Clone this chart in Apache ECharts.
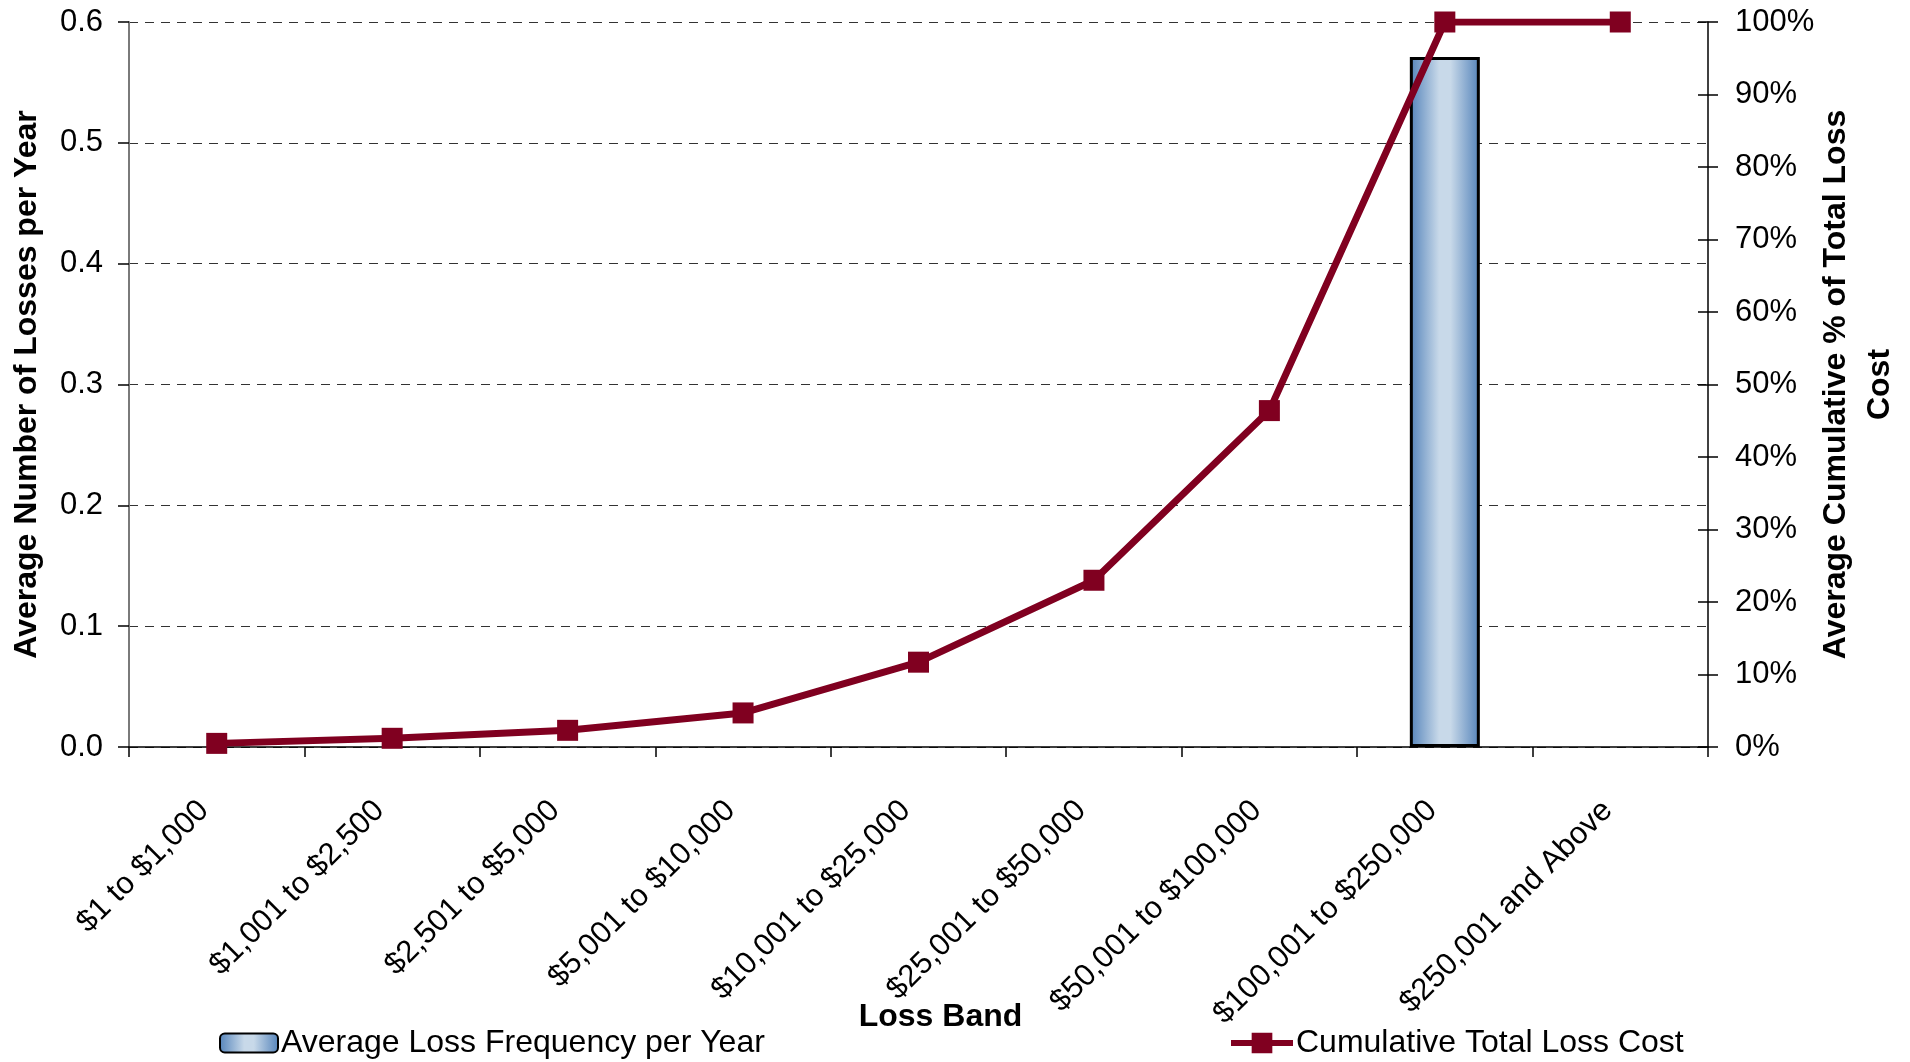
<!DOCTYPE html>
<html>
<head>
<meta charset="utf-8">
<style>
  html, body { margin: 0; padding: 0; background: #ffffff; }
  #chart { width: 1910px; height: 1062px; }
</style>
<script src="https://cdn.jsdelivr.net/npm/echarts@6/dist/echarts.min.js"></script>
</head>
<body>
<div id="chart"></div>
<script>
// Loss bands on the category axis
const lossBands = [
  '$1 to $1,000',
  '$1,001 to $2,500',
  '$2,501 to $5,000',
  '$5,001 to $10,000',
  '$10,001 to $25,000',
  '$25,001 to $50,000',
  '$50,001 to $100,000',
  '$100,001 to $250,000',
  '$250,001 and Above'
];

// Average number of losses per year in each band ('-' = no bar)
const lossFrequency = ['-', '-', '-', '-', '-', '-', '-', 0.571, '-'];

// Cumulative share of total loss cost, in percent
const cumulativeCost = [0.5, 1.2, 2.3, 4.7, 11.7, 23.0, 46.4, 100, 100];

const FONT = '"Liberation Sans", Arial, sans-serif';
const WINE = '#800020';

const chart = echarts.init(document.getElementById('chart'), null, { renderer: 'canvas' });

const barFill = new echarts.graphic.LinearGradient(0, 0, 1, 0, [
  { offset: 0, color: '#5483ba' },
  { offset: 0.42, color: '#c8d9e9' },
  { offset: 0.58, color: '#c8d9e9' },
  { offset: 1, color: '#5483ba' }
]);

// legend glyph for the line series: thick stroke with a square marker
const lineLegendIcon = 'path://M0,7 L60,7 L60,13 L0,13 Z M20,0 L40,0 L40,20 L20,20 Z';

chart.setOption({
  animation: false,
  backgroundColor: '#ffffff',
  textStyle: { fontFamily: FONT, color: '#000' },
  grid: { left: 129, right: 202, top: 22, bottom: 315, containLabel: false, outerBoundsMode: 'none' },
  legend: [
    {
      data: ['Average Loss Frequency per Year'],
      left: 214, top: 1022,
      itemWidth: 58, itemHeight: 19, itemGap: 8,
      textStyle: { fontFamily: FONT, fontSize: 32, color: '#000', padding: [0, 0, 0, -2] }
    },
    {
      data: [{ name: 'Cumulative Total Loss Cost', icon: lineLegendIcon }],
      left: 1226, top: 1022,
      itemWidth: 62, itemHeight: 21, itemGap: 8,
      itemStyle: { color: WINE, borderWidth: 0 },
      textStyle: { fontFamily: FONT, fontSize: 32, color: '#000', padding: [0, 0, 0, -2] }
    }
  ],
  xAxis: {
    type: 'category',
    data: lossBands,
    boundaryGap: true,
    name: 'Loss Band',
    nameLocation: 'middle',
    nameGap: 254,
    nameMoveOverlap: false,
    nameTextStyle: { fontFamily: FONT, fontSize: 32, fontWeight: 'bold', color: '#000', padding: [0, 0, 0, 44] },
    axisLine: { show: true, onZero: false, lineStyle: { color: '#000', width: 1.5 } },
    axisTick: { show: true, alignWithLabel: false, length: 10, lineStyle: { color: '#000', width: 1.5 } },
    axisLabel: {
      rotate: 45, margin: 46, interval: 0,
      padding: [0, 18, 0, 0],
      fontFamily: FONT, fontSize: 31, color: '#000'
    },
    splitLine: { show: false }
  },
  yAxis: [
    {
      type: 'value',
      position: 'left',
      min: 0, max: 0.6, interval: 0.1,
      name: 'Average Number of Losses per Year',
      nameLocation: 'middle',
      nameRotate: 90,
      nameGap: 86,
      nameMoveOverlap: false,
      nameTextStyle: { fontFamily: FONT, fontSize: 32, fontWeight: 'bold', color: '#000' },
      axisLine: { show: true, lineStyle: { color: '#7a7a7a', width: 2 } },
      axisTick: { show: true, length: 11, lineStyle: { color: '#000', width: 1.5 } },
      axisLabel: {
        margin: 26, fontFamily: FONT, fontSize: 31, color: '#000',
        formatter: v => v.toFixed(1)
      },
      splitLine: { show: true, lineStyle: { color: '#333333', width: 1.2, type: [9, 7] } }
    },
    {
      type: 'value',
      position: 'right',
      min: 0, max: 100, interval: 10,
      name: 'Average Cumulative % of Total Loss\nCost',
      nameLocation: 'middle',
      nameRotate: 90,
      nameGap: 106,
      nameMoveOverlap: false,
      nameTextStyle: { fontFamily: FONT, fontSize: 32, fontWeight: 'bold', color: '#000', lineHeight: 44, align: 'center' },
      axisLine: { show: true, lineStyle: { color: '#000', width: 1.5 } },
      axisTick: { show: true, length: 10, lineStyle: { color: '#000', width: 1.5 } },
      axisLabel: {
        margin: 27, fontFamily: FONT, fontSize: 31, color: '#000',
        formatter: '{value}%'
      },
      splitLine: { show: false }
    },
    {
      // inner half of the crossing ticks on the right axis
      type: 'value',
      position: 'right',
      min: 0, max: 100, interval: 10,
      axisLine: { show: false },
      axisTick: { show: true, inside: true, length: 10, lineStyle: { color: '#000', width: 1.5 } },
      axisLabel: { show: false },
      splitLine: { show: false }
    }
  ],
  series: [
    {
      name: 'Average Loss Frequency per Year',
      type: 'bar',
      yAxisIndex: 0,
      data: lossFrequency,
      barWidth: 70,
      itemStyle: { color: barFill, borderColor: '#000', borderWidth: 3 }
    },
    {
      name: 'Cumulative Total Loss Cost',
      type: 'line',
      yAxisIndex: 1,
      data: cumulativeCost,
      symbol: 'rect',
      symbolSize: 21,
      lineStyle: { color: WINE, width: 7 },
      itemStyle: { color: WINE },
      z: 5
    }
  ]
});
</script>
</body>
</html>
